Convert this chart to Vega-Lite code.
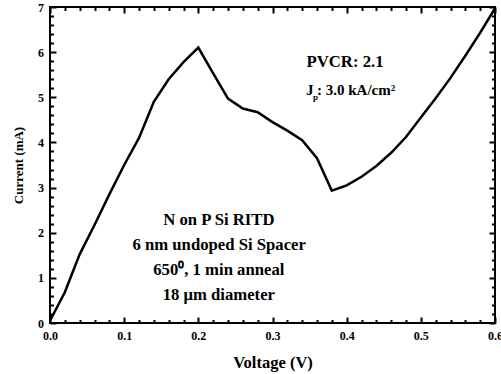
{
  "$schema": "https://vega.github.io/schema/vega-lite/v6.json",
  "width": 445,
  "height": 316,
  "autosize": {"type": "none"},
  "padding": {"left": 50, "top": 7, "right": 6, "bottom": 51},
  "background": "white",
  "config": {
    "view": {"stroke": "black", "strokeWidth": 2},
    "font": "Times New Roman, Liberation Serif, serif",
    "axis": {
      "grid": false,
      "domain": false,
      "ticks": true,
      "tickColor": "black",
      "tickWidth": 2,
      "labelColor": "black",
      "labelFont": "Times New Roman, Liberation Serif, serif",
      "labelFontWeight": "bold",
      "labelFontSize": 12,
      "titleFont": "Times New Roman, Liberation Serif, serif",
      "titleFontWeight": "bold",
      "titleColor": "black",
      "labelFlush": false,
      "labelOverlap": false,
      "labelBound": false
    }
  },
  "datasets": {
    "iv": [
      {"V": 0.00, "I": 0.05},
      {"V": 0.02, "I": 0.68},
      {"V": 0.04, "I": 1.52},
      {"V": 0.06, "I": 2.17},
      {"V": 0.08, "I": 2.85},
      {"V": 0.10, "I": 3.50},
      {"V": 0.12, "I": 4.10},
      {"V": 0.14, "I": 4.90},
      {"V": 0.16, "I": 5.40},
      {"V": 0.18, "I": 5.78},
      {"V": 0.20, "I": 6.10},
      {"V": 0.22, "I": 5.53},
      {"V": 0.24, "I": 4.97},
      {"V": 0.26, "I": 4.75},
      {"V": 0.28, "I": 4.67},
      {"V": 0.30, "I": 4.45},
      {"V": 0.32, "I": 4.26},
      {"V": 0.34, "I": 4.05},
      {"V": 0.36, "I": 3.65},
      {"V": 0.38, "I": 2.93},
      {"V": 0.40, "I": 3.05},
      {"V": 0.42, "I": 3.24},
      {"V": 0.44, "I": 3.48},
      {"V": 0.46, "I": 3.77},
      {"V": 0.48, "I": 4.12},
      {"V": 0.50, "I": 4.55},
      {"V": 0.52, "I": 4.98},
      {"V": 0.54, "I": 5.43},
      {"V": 0.56, "I": 5.92},
      {"V": 0.58, "I": 6.43},
      {"V": 0.60, "I": 6.97}
    ],
    "center": [
      {"V": 0.3978, "I": 5.67, "t": "PVCR: 2.1"},
      {"V": 0.2276, "I": 2.17, "t": "N on P Si RITD"},
      {"V": 0.2281, "I": 1.62, "t": "6 nm undoped Si Spacer"},
      {"V": 0.2276, "I": 1.06, "t": "650⁰, 1 min anneal"},
      {"V": 0.2276, "I": 0.51, "t": "18 μm diameter"}
    ],
    "jmain": [
      {"V": 0.3452, "I": 5.05, "t": "J"},
      {"V": 0.3600, "I": 5.05, "t": ": 3.0 kA/cm²"}
    ],
    "jsub": [
      {"V": 0.3546, "I": 4.94, "t": "p"}
    ]
  },
  "layer": [
    {
      "data": {"name": "iv"},
      "mark": {"type": "line", "color": "black", "strokeWidth": 2.5},
      "encoding": {
        "x": {
          "field": "V", "type": "quantitative",
          "scale": {"domain": [0, 0.6], "nice": false},
          "axis": {"orient": "bottom", "values": [0, 0.1, 0.2, 0.3, 0.4, 0.5, 0.6], "format": ".1f", "offset": -6, "tickSize": 6, "labelPadding": 7, "title": "Voltage (V)", "titleFontSize": 16.5, "titlePadding": 13}
        },
        "y": {
          "field": "I", "type": "quantitative",
          "scale": {"domain": [0, 7], "nice": false},
          "axis": {"orient": "left", "values": [0, 1, 2, 3, 4, 5, 6, 7], "format": "d", "offset": -6, "tickSize": 6, "labelPadding": 6.5, "title": "Current (mA)", "titleFontSize": 13, "titlePadding": 12}
        }
      }
    },
    {
      "data": {"name": "iv"},
      "mark": {"type": "line", "strokeOpacity": 0},
      "encoding": {
        "x": {"field": "V", "type": "quantitative", "scale": {"domain": [0, 0.6], "nice": false},
          "axis": {"orient": "bottom", "values": [0.02, 0.04, 0.06, 0.08, 0.12, 0.14, 0.16, 0.18, 0.22, 0.24, 0.26, 0.28, 0.32, 0.34, 0.36, 0.38, 0.42, 0.44, 0.46, 0.48, 0.52, 0.54, 0.56, 0.58], "labels": false, "offset": -3.5, "tickSize": 3.5, "title": null}},
        "y": {"field": "I", "type": "quantitative", "scale": {"domain": [0, 7], "nice": false},
          "axis": {"orient": "left", "values": [0.2, 0.4, 0.6, 0.8, 1.2, 1.4, 1.6, 1.8, 2.2, 2.4, 2.6, 2.8, 3.2, 3.4, 3.6, 3.8, 4.2, 4.4, 4.6, 4.8, 5.2, 5.4, 5.6, 5.8, 6.2, 6.4, 6.6, 6.8], "labels": false, "offset": -3.5, "tickSize": 3.5, "title": null}}
      }
    },
    {
      "data": {"name": "iv"},
      "mark": {"type": "line", "strokeOpacity": 0},
      "encoding": {
        "x": {"field": "V", "type": "quantitative", "scale": {"domain": [0, 0.6], "nice": false},
          "axis": {"orient": "top", "values": [0, 0.1, 0.2, 0.3, 0.4, 0.5, 0.6], "labels": false, "offset": -6, "tickSize": 6, "title": null}},
        "y": {"field": "I", "type": "quantitative", "scale": {"domain": [0, 7], "nice": false},
          "axis": {"orient": "right", "values": [0, 1, 2, 3, 4, 5, 6, 7], "labels": false, "offset": -6, "tickSize": 6, "title": null}}
      }
    },
    {
      "data": {"name": "iv"},
      "mark": {"type": "line", "strokeOpacity": 0},
      "encoding": {
        "x": {"field": "V", "type": "quantitative", "scale": {"domain": [0, 0.6], "nice": false},
          "axis": {"orient": "top", "values": [0.02, 0.04, 0.06, 0.08, 0.12, 0.14, 0.16, 0.18, 0.22, 0.24, 0.26, 0.28, 0.32, 0.34, 0.36, 0.38, 0.42, 0.44, 0.46, 0.48, 0.52, 0.54, 0.56, 0.58], "labels": false, "offset": -3.5, "tickSize": 3.5, "title": null}},
        "y": {"field": "I", "type": "quantitative", "scale": {"domain": [0, 7], "nice": false},
          "axis": {"orient": "right", "values": [0.2, 0.4, 0.6, 0.8, 1.2, 1.4, 1.6, 1.8, 2.2, 2.4, 2.6, 2.8, 3.2, 3.4, 3.6, 3.8, 4.2, 4.4, 4.6, 4.8, 5.2, 5.4, 5.6, 5.8, 6.2, 6.4, 6.6, 6.8], "labels": false, "offset": -3.5, "tickSize": 3.5, "title": null}}
      }
    },
    {
      "data": {"name": "center"},
      "mark": {"type": "text", "align": "center", "baseline": "alphabetic", "font": "Times New Roman, Liberation Serif, serif", "fontWeight": "bold", "fontSize": 16.7, "color": "black"},
      "encoding": {
        "x": {"field": "V", "type": "quantitative", "axis": null},
        "y": {"field": "I", "type": "quantitative", "axis": null},
        "text": {"field": "t"}
      }
    },
    {
      "data": {"name": "jmain"},
      "mark": {"type": "text", "align": "left", "baseline": "alphabetic", "font": "Times New Roman, Liberation Serif, serif", "fontWeight": "bold", "fontSize": 15, "color": "black"},
      "encoding": {
        "x": {"field": "V", "type": "quantitative", "axis": null},
        "y": {"field": "I", "type": "quantitative", "axis": null},
        "text": {"field": "t"}
      }
    },
    {
      "data": {"name": "jsub"},
      "mark": {"type": "text", "align": "left", "baseline": "alphabetic", "font": "Times New Roman, Liberation Serif, serif", "fontWeight": "bold", "fontSize": 9, "color": "black"},
      "encoding": {
        "x": {"field": "V", "type": "quantitative", "axis": null},
        "y": {"field": "I", "type": "quantitative", "axis": null},
        "text": {"field": "t"}
      }
    }
  ],
  "resolve": {"axis": {"x": "independent", "y": "independent"}}
}
